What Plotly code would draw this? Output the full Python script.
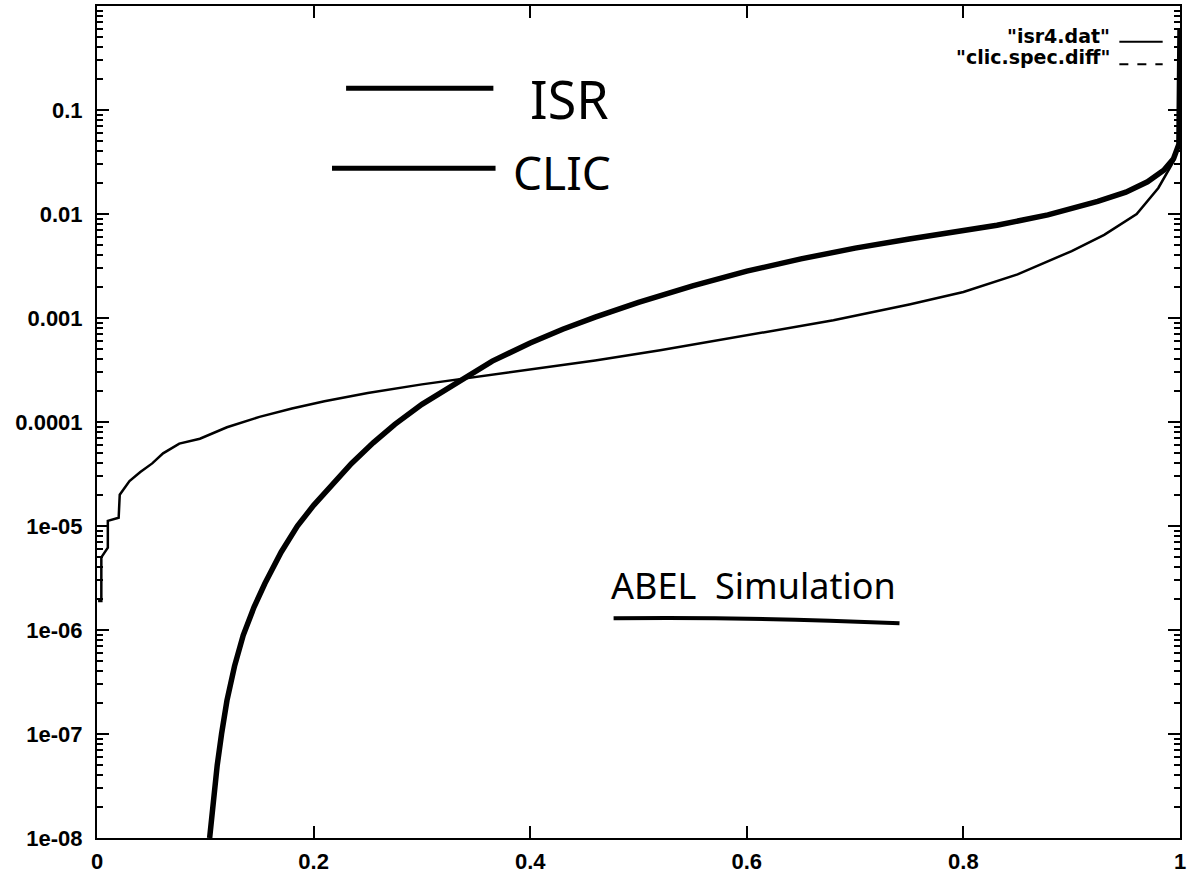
import plotly.graph_objects as go

# ---- data ----
isr_x = [0.104, 0.107, 0.111, 0.115, 0.120, 0.127, 0.135, 0.145, 0.155, 0.170, 0.185,
         0.200, 0.217, 0.235, 0.255, 0.275, 0.300, 0.337, 0.365, 0.400, 0.430, 0.460,
         0.500, 0.550, 0.600, 0.650, 0.700, 0.750, 0.800, 0.831, 0.878, 0.924, 0.950,
         0.970, 0.985, 0.994, 0.999, 1.0]
isr_y = [1.0e-8, 2.2e-8, 5.0e-8, 1.0e-7, 2.1e-7, 4.5e-7, 8.9e-7, 1.66e-6, 2.8e-6, 5.6e-6, 1.0e-5,
         1.58e-5, 2.5e-5, 4.0e-5, 6.3e-5, 9.5e-5, 1.48e-4, 2.6e-4, 3.85e-4, 5.75e-4, 7.8e-4, 1.02e-3,
         1.41e-3, 2.04e-3, 2.82e-3, 3.7e-3, 4.7e-3, 5.75e-3, 6.9e-3, 7.8e-3, 9.8e-3, 1.32e-2, 1.62e-2,
         2.04e-2, 2.63e-2, 3.4e-2, 4.7e-2, 0.6]

clic_x = [0.001, 0.004, 0.004, 0.010, 0.010, 0.020, 0.021, 0.030, 0.040, 0.051, 0.061,
          0.076, 0.095, 0.120, 0.150, 0.180, 0.210, 0.250, 0.300, 0.337, 0.400, 0.460,
          0.520, 0.600, 0.680, 0.750, 0.800, 0.850, 0.900, 0.930, 0.960, 0.980, 0.994, 0.999, 1.0]
clic_y = [1.9e-6, 1.9e-6, 5.0e-6, 6.2e-6, 1.12e-5, 1.2e-5, 2.0e-5, 2.7e-5, 3.3e-5, 4.0e-5, 5.0e-5,
          6.2e-5, 6.9e-5, 8.9e-5, 1.12e-4, 1.35e-4, 1.58e-4, 1.9e-4, 2.3e-4, 2.6e-4, 3.16e-4, 3.9e-4,
          4.9e-4, 6.8e-4, 9.5e-4, 1.35e-3, 1.78e-3, 2.63e-3, 4.4e-3, 6.3e-3, 1.0e-2, 1.78e-2, 3.2e-2,
          5.0e-2, 0.5]

x_tickvals = [0, 0.2, 0.4, 0.6, 0.8, 1]
x_ticktext = ["0", "0.2", "0.4", "0.6", "0.8", "1"]
y_tickvals = [1e-8, 1e-7, 1e-6, 1e-5, 1e-4, 1e-3, 1e-2, 1e-1]
y_ticktext = ["1e-08", "1e-07", "1e-06", "1e-05", "0.0001", "0.001", "0.01", "0.1"]

legend_labels = ['"isr4.dat"', '"clic.spec.diff"']
hand_labels = ["ISR", "CLIC"]
note_text = "ABEL  Simulation"

y_minor = [m * 10.0 ** k for k in range(-8, 0) for m in range(2, 10)]

fig = go.Figure()
fig.add_trace(go.Scatter(x=clic_x, y=clic_y, mode="lines",
                         line=dict(color="black", width=2.5), showlegend=False))
fig.add_trace(go.Scatter(x=isr_x, y=isr_y, mode="lines",
                         line=dict(color="black", width=5.5), showlegend=False))

tickfont = dict(family="Liberation Sans, Arial, sans-serif", size=22, color="black", weight="bold")

fig.update_layout(
    width=1190, height=879,
    margin=dict(l=97, r=6, t=4, b=41),
    paper_bgcolor="white", plot_bgcolor="white",
    showlegend=False,
    xaxis=dict(range=[0, 1], tickmode="array", tickvals=x_tickvals, ticktext=x_ticktext,
               ticks="inside", ticklen=12, tickwidth=2, tickcolor="black",
               showline=True, linecolor="black", linewidth=2, mirror="allticks",
               showgrid=False, zeroline=False, tickfont=tickfont, ticklabelstandoff=3,
               ticklabeloverflow="allow"),
    yaxis=dict(type="log", range=[-8, 0], tickmode="array", tickvals=y_tickvals, ticktext=y_ticktext,
               ticks="inside", ticklen=12, tickwidth=2, tickcolor="black",
               showline=True, linecolor="black", linewidth=2, mirror="allticks",
               showgrid=False, zeroline=False, tickfont=tickfont, ticklabelstandoff=8,
               ticklabeloverflow="allow",
               minor=dict(tickmode="array", tickvals=y_minor, ticks="inside", ticklen=6,
                          tickwidth=1.5, tickcolor="black", showgrid=False)),
)

legfont = dict(family="DejaVu Sans, sans-serif", size=19, color="black", weight="bold")
# gnuplot-style key (top right)
fig.add_annotation(xref="paper", yref="paper", x=0.937, y=0.964, text=legend_labels[0],
                   showarrow=False, xanchor="right", yanchor="middle", font=legfont)
fig.add_annotation(xref="paper", yref="paper", x=0.937, y=0.939, text=legend_labels[1],
                   showarrow=False, xanchor="right", yanchor="middle", font=legfont)
fig.add_shape(type="line", xref="paper", yref="paper", x0=0.944, x1=0.984, y0=0.957, y1=0.957,
              line=dict(color="black", width=2))
fig.add_shape(type="line", xref="paper", yref="paper", x0=0.944, x1=0.984, y0=0.930, y1=0.930,
              line=dict(color="black", width=2, dash="dash"))

# handwritten annotations
fig.add_annotation(xref="paper", yref="paper", x=0.436, y=0.889, text=hand_labels[0],
                   showarrow=False, xanchor="center", yanchor="middle",
                   font=dict(family="Noto Sans, DejaVu Sans, sans-serif", size=52, color="black"))
fig.add_annotation(xref="paper", yref="paper", x=0.429, y=0.801, text=hand_labels[1],
                   showarrow=False, xanchor="center", yanchor="middle",
                   font=dict(family="Noto Sans, DejaVu Sans, sans-serif", size=46, color="black"))
fig.add_shape(type="line", xref="paper", yref="paper", x0=0.230, x1=0.366, y0=0.901, y1=0.901,
              line=dict(color="black", width=5))
fig.add_shape(type="line", xref="paper", yref="paper", x0=0.217, x1=0.368, y0=0.805, y1=0.805,
              line=dict(color="black", width=5))
fig.add_annotation(xref="paper", yref="paper", x=0.606, y=0.303, text=note_text,
                   showarrow=False, xanchor="center", yanchor="middle",
                   font=dict(family="Noto Sans, DejaVu Sans, sans-serif", size=36, color="black"))
fig.add_shape(type="path", xref="paper", yref="paper",
              path="M 0.477 0.264 Q 0.60 0.266 0.741 0.258",
              line=dict(color="black", width=4))

fig.write_html("out.html")
